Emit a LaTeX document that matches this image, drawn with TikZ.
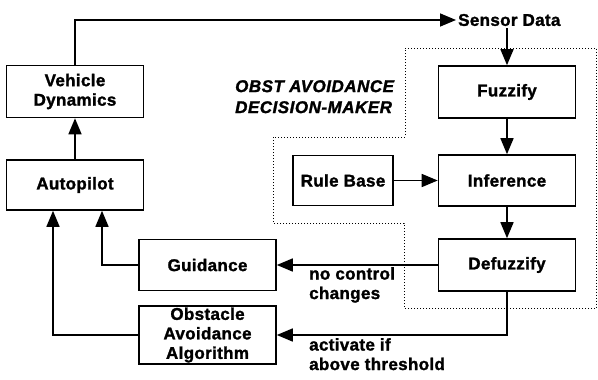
\documentclass[tikz,border=0pt]{standalone}
\usepackage{fontspec}
\setmainfont{Liberation Sans}
\newfontfamily\diagfamily{Liberation Sans Bold}[LetterSpace=2, FakeBold=1.5]
\newfontfamily\titlefamily{Liberation Sans Bold Italic}[LetterSpace=3, FakeBold=1.5]
\newcommand\boxfont{\diagfamily\fontsize{17}{19.5}\selectfont}
\newcommand\titlefont{\titlefamily\fontsize{17}{21}\selectfont}
\usetikzlibrary{arrows.meta}
\tikzset{
  block/.style={draw, line width=1.6pt, minimum width=137pt, minimum height=52pt,
    align=center, font=\boxfont, inner sep=0pt},
  flow/.style={line width=1.6pt, -{Triangle[length=16pt,width=13pt]}},
  note/.style={font=\boxfont, align=left, anchor=north west, inner sep=0pt},
}
\begin{document}
\begin{tikzpicture}[x=1pt, y=-1pt]
    \useasboundingbox (0,0) rectangle (598,380);
    % Boxes
    \node[block] (vd) at (75,91.5) {Vehicle\\Dynamics};
    \node[block, minimum height=50pt] (ap) at (75,185) {Autopilot};
    \node[block] (fuz) at (507,92) {Fuzzify};
    \node[block, minimum height=51pt] (inf) at (507,180.5) {Inference};
    \node[block, minimum width=100pt, minimum height=50pt] (rule) at (343,180.5) {Rule Base};
    \node[block] (defz) at (507,265) {Defuzzify};
    \node[block, minimum height=51pt] (gui) at (207.5,265) {Guidance};
    \node[block, minimum height=58pt] (oaa) at (207.5,335) {Obstacle\\Avoidance\\Algorithm};

    % Labels
    \node[note, anchor=west, inner sep=2pt] (sensor) at (456,20) {Sensor Data};
    \node[note, font=\titlefont] (title) at (235,80) {OBST AVOIDANCE\\DECISION-MAKER};
    \node[note] (nochg) at (309,267) {no control\\changes};
    \node[note] (act) at (309,338) {activate if\\above threshold};

    % Decision-maker boundary
    \draw[dotted, line width=1pt] (405,48) -- (596.5,48) -- (596.5,308) -- (404,308)
        -- (404,223) -- (273,223) -- (273,137) -- (405,137) -- cycle;

    % Connectors
    \draw[flow] (vd.north) |- (sensor.west);
    \draw[flow] (fuz.north |- sensor.south) -- (fuz.north);
    \draw[flow] (fuz) -- (inf);
    \draw[flow] (rule) -- (inf);
    \draw[flow] (inf) -- (defz);
    \draw[flow] (defz) -- (gui);
    \draw[flow] (defz.south) |- (oaa.east);
    \draw[flow] (ap) -- (vd);
    \draw[flow] (gui.west) -| ([xshift=27pt]ap.south);
    \draw[flow] (oaa.west) -| ([xshift=-22pt]ap.south);
\end{tikzpicture}
\end{document}
